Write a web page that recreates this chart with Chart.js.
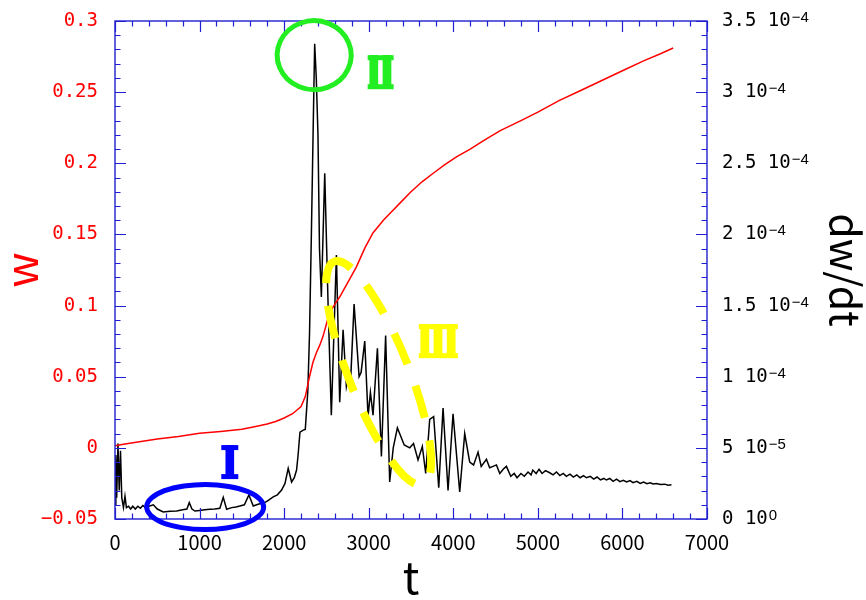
<!DOCTYPE html>
<html><head><meta charset="utf-8">
<script src="https://cdn.jsdelivr.net/npm/chart.js@4.4.1/dist/chart.umd.min.js"></script>
<style>html,body{margin:0;padding:0;background:#fff;}</style>
</head><body>
<canvas id="c" width="866" height="600"></canvas>
<script>
// ---------- data ----------
const wT =   [0,100,250,500,750,1000,1250,1500,1650,1800,1900,2000,2100,2200,2250,2300,2340,2380,2420,2458,2500,2537,2600,2656,2750,2853,2955,3050,3173,3270,3369,3500,3630,3763,3900,4042,4200,4358,4555,4800,5000,5250,5500,5750,6000,6250,6450,6600];
const wVal = [0.0015,0.0025,0.004,0.0062,0.008,0.0103,0.0115,0.013,0.0148,0.0168,0.0185,0.021,0.024,0.029,0.036,0.050,0.060,0.0667,0.072,0.078,0.087,0.0948,0.101,0.106,0.116,0.127,0.1405,0.151,0.160,0.166,0.172,0.180,0.187,0.193,0.199,0.2047,0.210,0.216,0.223,0.230,0.236,0.244,0.251,0.258,0.265,0.272,0.277,0.281];

// dw/dt in units of 1e-5
const dT =   [0,10,20,35,50,65,80,100,118,135,160,185,210,240,270,300,330,360,400,453,500,570,650,729,800,850,878,910,945,1000,1060,1122,1180,1240,1280,1320,1380,1430,1476,1530,1583,1635,1700,1753,1800,1871,1920,1970,2010,2048,2088,2120,2147,2165,2187,2226,2250,2280,2300,2322,2345,2361,2380,2400,2418,2440,2480,2520,2558,2618,2657,2697,2736,2760,2785,2827,2886,2910,2953,2992,3020,3051,3103,3150,3200,3248,3290,3339,3380,3420,3485,3530,3583,3634,3674,3721,3768,3828,3879,3938,3997,4076,4135,4194,4240,4293,4330,4392,4430,4470,4510,4550,4590,4628,4680,4720,4754,4800,4840,4884,4920,4940,4980,5014,5050,5090,5140,5180,5220,5260,5300,5337,5380,5420,5460,5500,5540,5574,5620,5660,5700,5740,5780,5810,5850,5890,5930,5970,6010,6050,6090,6125,6170,6210,6250,6290,6330,6362,6400,6450,6500,6540,6580];
const dVal = [1.0,4.5,1.5,5.3,2.0,4.8,1.5,0.8,1.6,0.8,0.9,0.7,0.9,0.7,0.9,0.75,0.95,0.8,0.9,1.0,0.7,0.5,0.55,0.56,0.65,0.7,1.15,0.7,0.56,0.6,0.65,0.68,0.7,0.75,1.52,0.68,0.8,0.85,0.91,1.0,1.69,0.91,1.05,1.1,1.25,1.56,1.7,2.04,2.5,3.56,2.6,2.9,3.44,4.5,6.1,6.25,6.3,9.0,13.0,20.0,28.0,33.4,31.0,27.0,19.0,15.6,24.3,15.0,7.3,18.55,8.2,13.3,9.3,10.0,9.6,15.1,10.0,10.3,12.5,7.2,8.9,7.3,12.0,4.4,12.9,2.6,5.0,6.4,5.8,5.2,5.0,5.3,4.15,5.1,3.2,7.0,7.2,2.2,7.8,2.0,7.4,1.9,6.0,4.0,3.8,4.7,3.7,4.2,3.6,3.7,3.8,3.2,3.5,3.7,3.0,3.2,2.9,3.2,3.0,3.3,3.1,3.44,3.2,3.5,3.2,3.4,3.25,3.1,3.3,3.05,3.2,3.0,3.15,2.95,3.1,2.9,3.05,2.9,3.0,2.8,2.95,2.75,2.85,2.74,2.85,2.65,2.8,2.62,2.72,2.6,2.7,2.55,2.65,2.5,2.6,2.48,2.55,2.46,2.5,2.42,2.45,2.38,2.4];

const xTickValues = [0,1000,2000,3000,4000,5000,6000,7000];
const leftTickValues = [-0.05,0,0.05,0.1,0.15,0.2,0.25,0.3];
const leftTickLabels = ["\u22120.05","0","0.05","0.1","0.15","0.2","0.25","0.3"];
const rightTickValues = [0,5,10,15,20,25,30,35];
const rightTickMantissas = ["0 10","5 10","1 10","1.5 10","2 10","2.5 10","3 10","3.5 10"];
const rightTickExponents = ["0","\u22125","\u22124","\u22124","\u22124","\u22124","\u22124","\u22124"];

// annotations (centre in data coords: x = t, y = right axis value)
const annotations = [
  {type:'ellipse', t:1066, v:0.84, rx:58.5, ry:22.5, rot:0, color:'#0000ff', width:5, dash:null},
  {type:'ellipse', t:2355, v:32.6, rx:37, ry:34.5, rot:0, color:'#22ee22', width:5, dash:null},
  {type:'ellipse', t:3118, v:10.26, rx:30, ry:120, rot:-0.38, color:'#ffff00', width:8, dash:[33,23]},
  {type:'text', t:1358, v:4.0, text:'\u2160', color:'#0000ff', ext:4},
  {type:'text', t:3137, v:31.4, text:'\u2161', color:'#22ee22', ext:1.5},
  {type:'text', t:3820, v:12.5, text:'\u2162', color:'#ffff00', ext:1.5}
];

const AXIS = '#2020d0';
const MONO = "'DejaVu Sans Mono',monospace";
const SANS = "'Noto Sans CJK JP','Noto Sans',sans-serif";
const ROMAN = "'DejaVu Sans','Noto Sans CJK JP',sans-serif";

const framePlugin = {
  id:'frame',
  afterDatasetsDraw(chart){
    const {ctx, chartArea:a, scales} = chart;
    const x = scales.x, yL = scales.yL;
    ctx.save();
    ctx.strokeStyle = AXIS;
    ctx.lineWidth = 1.4;
    ctx.strokeRect(a.left, a.top, a.right - a.left, a.bottom - a.top);
    ctx.lineWidth = 1.2;
    ctx.beginPath();
    for (let k = 0; k <= 35; k++) {
      const px = Math.round(x.getPixelForValue(k*200)) + 0.5;
      const len = (k % 5 === 0) ? 11 : 5.5;
      ctx.moveTo(px, a.bottom); ctx.lineTo(px, a.bottom - len);
      ctx.moveTo(px, a.top); ctx.lineTo(px, a.top + len);
    }
    for (let k = -5; k <= 30; k++) {
      const py = Math.round(yL.getPixelForValue(k/100)) + 0.5;
      const len = (k % 5 === 0) ? 11 : 5.5;
      ctx.moveTo(a.left, py); ctx.lineTo(a.left + len, py);
      ctx.moveTo(a.right, py); ctx.lineTo(a.right - len, py);
    }
    ctx.stroke();
    ctx.restore();
  }
};

// superscript exponents for the right axis labels
const expPlugin = {
  id:'exps',
  afterDraw(chart){
    const {ctx} = chart;
    const s = chart.scales.yR;
    ctx.save();
    ctx.fillStyle = '#000';
    ctx.textAlign = 'left'; ctx.textBaseline = 'alphabetic';
    const x0 = s.left + s.options.ticks.padding;
    rightTickValues.forEach((v,i)=>{
      const y = s.getPixelForValue(v);
      ctx.font = "19px " + MONO;
      const w = ctx.measureText(rightTickMantissas[i]).width;
      ctx.font = "15px 'Liberation Sans',sans-serif";
      ctx.fillText(rightTickExponents[i], x0 + w + 1, y + 1);
    });
    ctx.restore();
  }
};

const annotPlugin = {
  id:'annot',
  afterDraw(chart){
    const {ctx, scales} = chart;
    const x = scales.x, yR = scales.yR;
    ctx.save();
    for (const an of annotations) {
      const cx = x.getPixelForValue(an.t), cy = yR.getPixelForValue(an.v);
      if (an.type === 'ellipse') {
        ctx.beginPath();
        ctx.strokeStyle = an.color; ctx.lineWidth = an.width;
        if (an.dash) { ctx.setLineDash(an.dash); ctx.lineCap = 'butt'; } else ctx.setLineDash([]);
        const st = -Math.PI/2 - 0.37;
        ctx.ellipse(cx, cy, an.rx, an.ry, an.rot, st, st + Math.PI*2);
        ctx.stroke();
      } else {
        ctx.setLineDash([]);
        ctx.fillStyle = an.color;
        ctx.font = "bold 46px " + ROMAN;
        ctx.textAlign = 'center'; ctx.textBaseline = 'alphabetic';
        const by = cy + 17;
        ctx.fillText(an.text, cx, by);
        const m = ctx.measureText(an.text);
        const l = cx - m.actualBoundingBoxLeft - an.ext, r = cx + m.actualBoundingBoxRight + an.ext;
        const top = by - m.actualBoundingBoxAscent;
        ctx.fillRect(l, top, r - l, 5);
        ctx.fillRect(l, by - 5, r - l, 5);
      }
    }
    ctx.restore();
  }
};

const noPad = s => { s.paddingTop = 0; s.paddingBottom = 0; };

new Chart(document.getElementById('c'), {
  type:'line',
  data:{ datasets:[
    { label:'w', data: wT.map((t,i)=>({x:t, y:wVal[i]})), yAxisID:'yL', borderColor:'#ff0000', borderWidth:1.5, pointRadius:0, tension:0 },
    { label:'dw/dt', data: dT.map((t,i)=>({x:t, y:dVal[i]})), yAxisID:'yR', borderColor:'#000000', borderWidth:1.5, pointRadius:0, tension:0 }
  ]},
  options:{
    responsive:false, animation:false, devicePixelRatio:1,
    layout:{padding:{top:21, left:0, right:0, bottom:0}},
    plugins:{legend:{display:false}, tooltip:{enabled:false}},
    scales:{
      x:{ type:'linear', position:'bottom', min:0, max:7000,
        afterBuildTicks:s=>{ s.ticks = xTickValues.map(v=>({value:v})); },
        afterFit:s=>{ s.height = 81; s.paddingLeft = 0; s.paddingRight = 0; },
        grid:{display:false, drawTicks:false}, border:{display:false},
        ticks:{ color:'#000', padding:11, maxRotation:0, autoSkip:false, font:{family:SANS, size:20},
          callback:v=>String(v) },
        title:{ display:true, text:'t', color:'#000', font:{family:SANS, size:44, lineHeight:1}, padding:{top:0, bottom:1} }
      },
      yL:{ type:'linear', position:'left', min:-0.05, max:0.3,
        afterBuildTicks:s=>{ s.ticks = leftTickValues.map(v=>({value:v})); },
        afterFit:s=>{ s.width = 115; noPad(s); },
        grid:{display:false, drawTicks:false}, border:{display:false},
        ticks:{ color:'#ff0000', padding:17, autoSkip:false, font:{family:MONO, size:19},
          callback:(v,i)=>leftTickLabels[i] },
        title:{ display:true, text:'w', color:'#ff0000', font:{family:SANS, size:44, lineHeight:1}, padding:{top:-1, bottom:0} }
      },
      yR:{ type:'linear', position:'right', min:0, max:35,
        afterBuildTicks:s=>{ s.ticks = rightTickValues.map(v=>({value:v})); },
        afterFit:s=>{ s.width = 159; noPad(s); },
        grid:{display:false, drawTicks:false}, border:{display:false},
        ticks:{ color:'#000', padding:15, autoSkip:false, font:{family:MONO, size:19},
          callback:(v,i)=>rightTickMantissas[i] },
        title:{ display:true, text:'dw/dt', color:'#000', font:{family:SANS, size:41, lineHeight:1}, padding:{top:0, bottom:0} }
      }
    }
  },
  plugins:[framePlugin, expPlugin, annotPlugin]
});
</script>
</body></html>
